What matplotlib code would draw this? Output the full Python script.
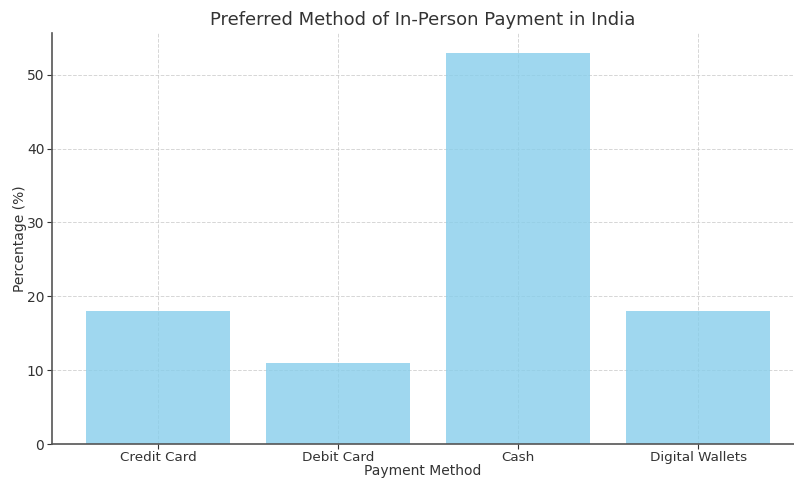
import matplotlib
matplotlib.use("Agg")
import matplotlib.pyplot as plt

categories = ["Credit Card", "Debit Card", "Cash", "Digital Wallets"]
values = [18, 11, 53, 18]

W, H = 794, 479
fig = plt.figure(figsize=(W / 100, H / 100), dpi=100)
ax = fig.add_axes([52 / W, 1 - 444 / H, (794 - 52) / W, (444 - 33) / H])

ax.set_axisbelow(True)
ax.grid(True, linestyle="--", color="#cccccc", linewidth=0.7, alpha=0.8)
ax.bar(categories, values, color="skyblue", alpha=0.8, width=0.8)

ax.set_xlim(-0.59, 3.532)
ax.set_ylim(0, 55.65)
ax.set_yticks([0, 10, 20, 30, 40, 50])

for s in ["top", "right"]:
    ax.spines[s].set_visible(False)
for s in ["left", "bottom"]:
    ax.spines[s].set_color("#555555")
    ax.spines[s].set_linewidth(1.2)

ax.tick_params(colors="#333333", labelsize=10)
ax.tick_params(axis="x", pad=1.5, labelsize=9.7)
ax.tick_params(axis="y", pad=2)
ax.set_title("Preferred Method of In-Person Payment in India", fontsize=13, color="#333333")
ax.set_xlabel("Payment Method", fontsize=10, color="#333333", labelpad=0)
ax.set_ylabel("Percentage (%)", fontsize=10, color="#333333", labelpad=0)

fig.savefig("out.png", dpi=100)
